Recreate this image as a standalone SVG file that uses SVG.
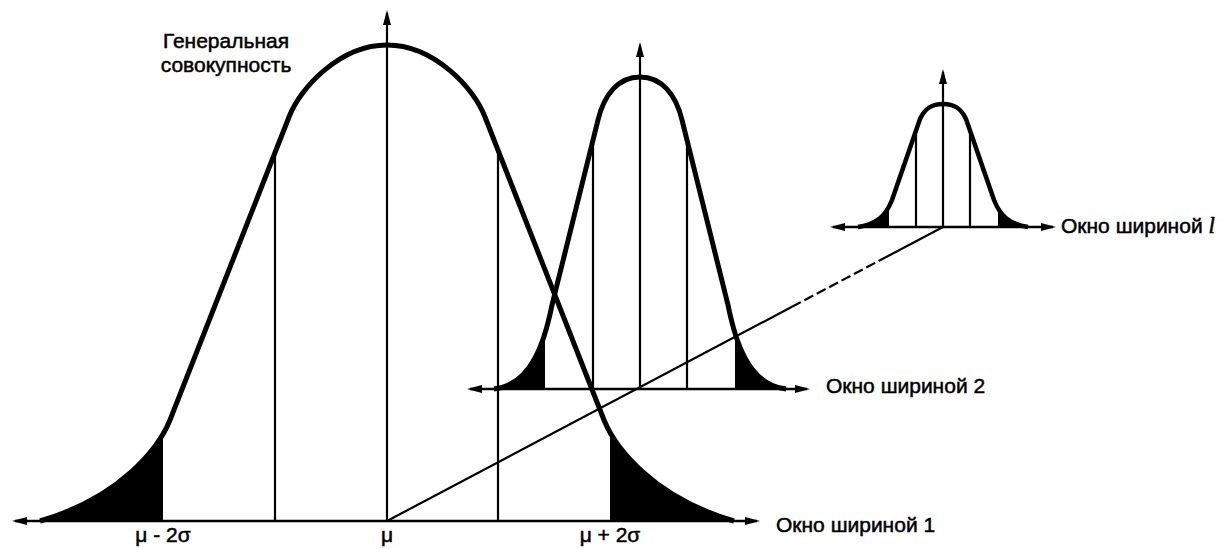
<svg xmlns="http://www.w3.org/2000/svg" width="1231" height="549" viewBox="0 0 1231 549">
<style>
.curve{fill:none;stroke:#000;stroke-width:5;stroke-linejoin:round}
.sc{fill:none;stroke:#000;stroke-width:4.5;stroke-linejoin:round}
.tail{fill:#000;stroke:none}
.base{stroke:#000;stroke-width:2.6;fill:none}
.vl{stroke:#000;stroke-width:2.2;fill:none}
.lbl{font-family:"Liberation Sans",Arial,sans-serif;font-size:21px;fill:#000;stroke:#000;stroke-width:0.5}
</style>
<defs>
<marker id="ah" viewBox="0 0 15 8" markerWidth="15" markerHeight="8" refX="12" refY="4" orient="auto-start-reverse" markerUnits="userSpaceOnUse">
<path d="M0,0 L15,4 L0,8 Z" fill="#000"/>
</marker>
<clipPath id="cBig"><rect x="0" y="0" width="163" height="549"/><rect x="610" y="0" width="200" height="549"/></clipPath>
<clipPath id="cMid"><rect x="460" y="0" width="85" height="549"/><rect x="735" y="0" width="100" height="549"/></clipPath>
<clipPath id="cSm"><rect x="820" y="0" width="69" height="549"/><rect x="998" y="0" width="80" height="549"/></clipPath>
</defs>
<rect width="1231" height="549" fill="#fff"/>

<g id="population">
<path class="tail" clip-path="url(#cBig)" d="M40,521 C122,497 159,447 170,420 L289,117 C300,88 340,45 387,45 C434,45 474,88 485,117 L604,420 C615,447 652,497 734,521 Z"/>
<line class="base" x1="15" y1="521" x2="757" y2="521" marker-start="url(#ah)" marker-end="url(#ah)"/>
<line class="vl" x1="275" y1="521" x2="275" y2="152"/>
<line class="vl" x1="498" y1="521" x2="498" y2="150"/>
<path class="curve" d="M40,521 C122,497 159,447 170,420 L289,117 C300,88 340,45 387,45 C434,45 474,88 485,117 L604,420 C615,447 652,497 734,521"/>
<line class="vl" x1="387" y1="521" x2="387" y2="13" marker-end="url(#ah)"/>
<text class="lbl" x="226" y="48" text-anchor="middle">Генеральная</text>
<text class="lbl" x="226" y="72" text-anchor="middle">совокупность</text>
<text class="lbl" x="163" y="542" text-anchor="middle">μ - 2σ</text>
<text class="lbl" x="387" y="542" text-anchor="middle">μ</text>
<text class="lbl" x="610" y="542" text-anchor="middle">μ + 2σ</text>
<text class="lbl" x="776" y="532">Окно шириной 1</text>
</g>

<g id="window2">
<path class="tail" clip-path="url(#cMid)" d="M494,389 C532,385 545,340 552,305 L598,120 C604,95 618,77 640,77 C662,77 676,95 682,120 L728,305 C735,340 748,385 786,389 Z"/>
<line class="base" x1="470" y1="389" x2="807" y2="389" marker-start="url(#ah)" marker-end="url(#ah)"/>
<line class="vl" x1="593" y1="389" x2="593" y2="140"/>
<line class="vl" x1="687" y1="389" x2="687" y2="140"/>
<path class="curve" d="M494,389 C532,385 545,340 552,305 L598,120 C604,95 618,77 640,77 C662,77 676,95 682,120 L728,305 C735,340 748,385 786,389"/>
<line class="vl" x1="640" y1="389" x2="640" y2="45" marker-end="url(#ah)"/>
<text class="lbl" x="826" y="393">Окно шириной 2</text>
</g>

<g id="windowl">
<path class="tail" clip-path="url(#cSm)" d="M858,227 C878,224 886,215 892,200 L920,119 C925,108 932,104 943,104 C954,104 961,108 966,119 L994,200 C1000,215 1008,224 1028,227 Z"/>
<line class="base" x1="833" y1="227" x2="1053" y2="227" marker-start="url(#ah)" marker-end="url(#ah)"/>
<line class="vl" x1="916" y1="227" x2="916" y2="131"/>
<line class="vl" x1="970" y1="227" x2="970" y2="131"/>
<path class="sc" d="M858,227 C878,224 886,215 892,200 L920,119 C925,108 932,104 943,104 C954,104 961,108 966,119 L994,200 C1000,215 1008,224 1028,227"/>
<line class="vl" x1="943" y1="227" x2="943" y2="72" marker-end="url(#ah)"/>
<text class="lbl" x="1061" y="233">Окно шириной <tspan font-family="'Liberation Serif',serif" font-style="italic" font-size="23">l</tspan></text>
</g>

<g id="connectors">
<line class="vl" x1="387" y1="521" x2="792" y2="306.8"/>
<line class="vl" x1="792" y1="306.8" x2="880" y2="260.3" stroke-dasharray="10 4"/>
<line class="vl" x1="880" y1="260.3" x2="943" y2="227"/>
</g>
</svg>
